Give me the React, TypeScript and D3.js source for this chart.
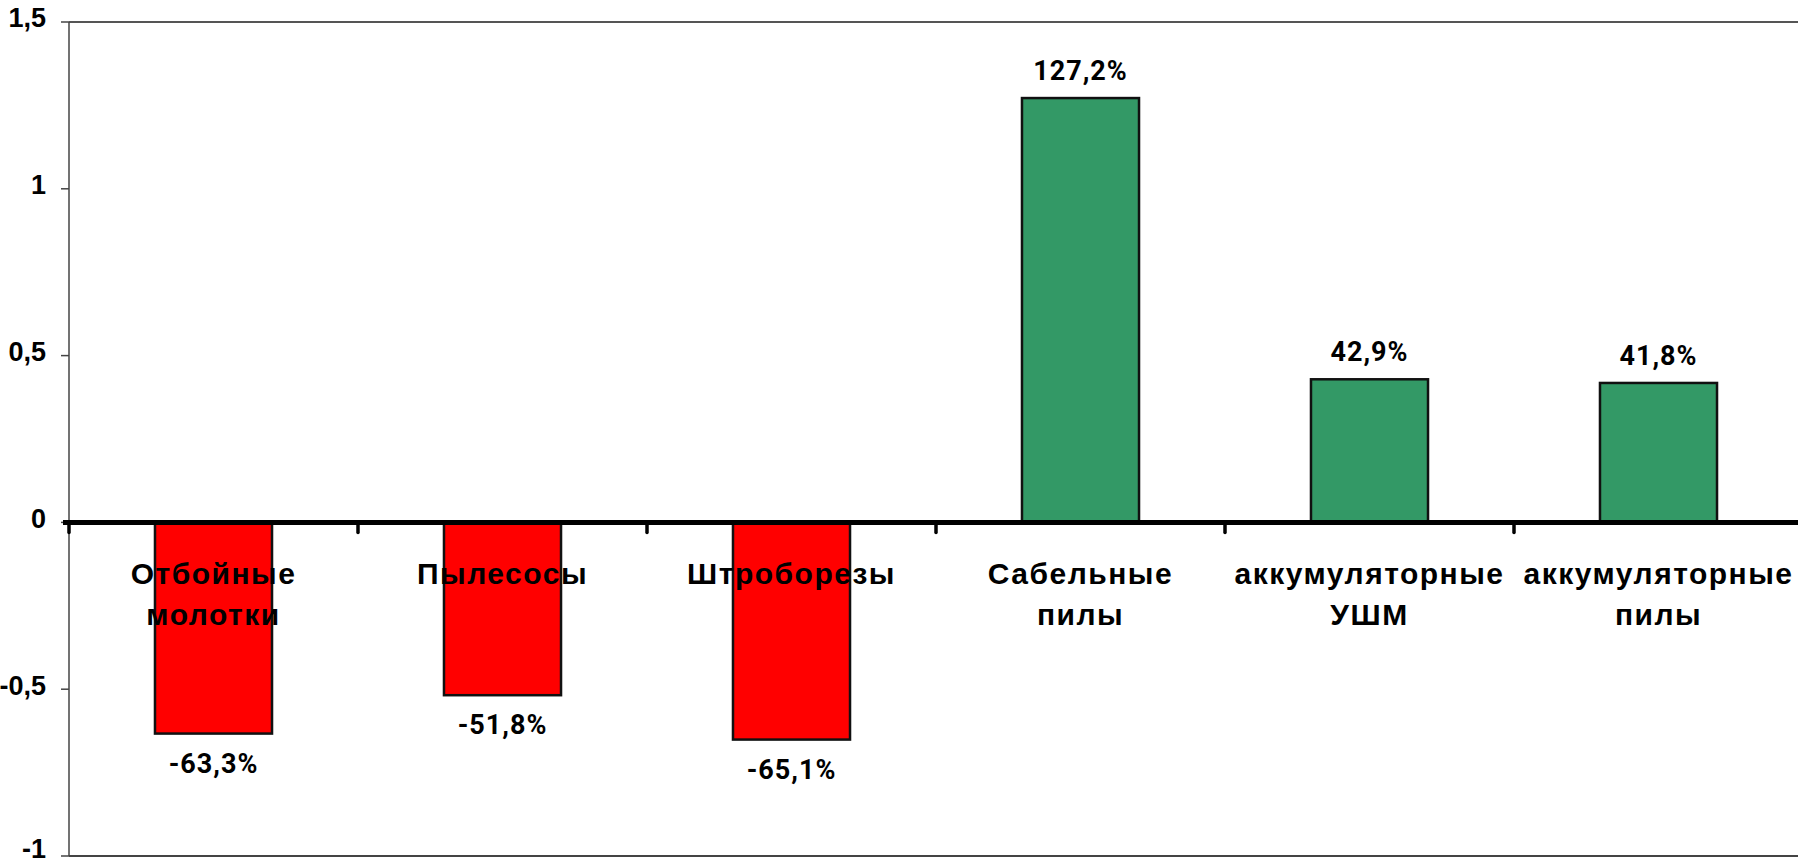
import React from "react";
import * as d3 from "d3";

const categories: string[][] = [
  ["Отбойные", "молотки"],
  ["Пылесосы"],
  ["Штроборезы"],
  ["Сабельные", "пилы"],
  ["аккумуляторные", "УШМ"],
  ["аккумуляторные", "пилы"],
];
const values: number[] = [-0.633, -0.518, -0.651, 1.272, 0.429, 0.418];
const yTicks: number[] = [-1, -0.5, 0, 0.5, 1, 1.5];

const W = 1798;
const H = 865;
const left = 69;
const right = 1803;
const top = 22;
const bottom = 856;

const locale = d3.formatLocale({
  decimal: ",",
  thousands: " ",
  grouping: [3],
  currency: ["", ""],
  minus: "-",
});
const tickFmt = locale.format("~g");
const pctFmt = locale.format(".1%");

export default function App() {
  const keys = categories.map((c) => c.join(" "));
  const x = d3
    .scaleBand<string>()
    .domain(keys)
    .range([left, right])
    .paddingInner(0.595)
    .paddingOuter(0.2975);
  const step = x.step();
  const y = d3.scaleLinear().domain([-1, 1.5]).range([bottom, top]);
  const y0 = y(0);

  return (
    <svg
      width={W}
      height={H}
      style={{ position: "absolute", left: 0, top: 0, background: "#fff" }}
    >
      <rect x={0} y={0} width={W} height={H} fill="#fff" />
      {/* frame */}
      <line x1={left} x2={W} y1={y(1.5)} y2={y(1.5)} stroke="#555" strokeWidth={2} />
      <line x1={left} x2={W} y1={y(-1)} y2={y(-1)} stroke="#444" strokeWidth={2} />
      <line x1={left} x2={left} y1={top} y2={bottom} stroke="#444" strokeWidth={1.5} />
      {/* y ticks */}
      {yTicks.map((t) => (
        <g key={t}>
          <line x1={left - 8} x2={left} y1={y(t)} y2={y(t)} stroke="#444" strokeWidth={1.5} />
          <text
            x={46}
            y={Math.min(y(t) + 5.4, 857.5)}
            textAnchor="end"
            fontFamily="Liberation Sans, Arial, sans-serif"
            fontWeight="bold"
            fontSize={27}
            fill="#000"
          >
            {tickFmt(t)}
          </text>
        </g>
      ))}
      {/* bars */}
      {values.map((v, i) => {
        const k = keys[i];
        const bx = x(k)!;
        const y1 = Math.min(y(v), y0);
        const h = Math.abs(y(v) - y0);
        return (
          <rect
            key={k}
            x={bx}
            y={y1}
            width={x.bandwidth()}
            height={h}
            fill={v < 0 ? "#FF0000" : "#339966"}
            stroke="#111"
            strokeWidth={2.5}
          />
        );
      })}
      {/* zero axis */}
      <line x1={left - 6} x2={W} y1={y0} y2={y0} stroke="#000" strokeWidth={5} />
      {d3.range(keys.length + 1).map((i) => (
        <line
          key={i}
          x1={left + i * step}
          x2={left + i * step}
          y1={y0}
          y2={y0 + 10}
          stroke="#000"
          strokeWidth={3.5}
          strokeLinecap="round"
        />
      ))}
      {/* value labels */}
      {values.map((v, i) => {
        const k = keys[i];
        const cx = x(k)! + x.bandwidth() / 2;
        const ly = v < 0 ? y(v) + 39 : y(v) - 18;
        return (
          <text
            key={k}
            x={cx}
            y={ly}
            textAnchor="middle"
            fontFamily="Roboto, sans-serif"
            fontWeight="bold"
            fontSize={27}
            letterSpacing={1}
            fill="#000"
          >
            {pctFmt(v)}
          </text>
        );
      })}
      {/* category labels */}
      {categories.map((lines, i) => {
        const k = keys[i];
        const cx = x(k)! + x.bandwidth() / 2;
        return (
          <text
            key={k}
            x={cx}
            textAnchor="middle"
            fontFamily="Liberation Sans, Arial, sans-serif"
            fontWeight="bold"
            fontSize={30}
            letterSpacing={1.5}
            fill="#000"
          >
            {lines.map((ln, j) => (
              <tspan key={j} x={cx} y={584 + j * 41}>
                {ln}
              </tspan>
            ))}
          </text>
        );
      })}
    </svg>
  );
}
